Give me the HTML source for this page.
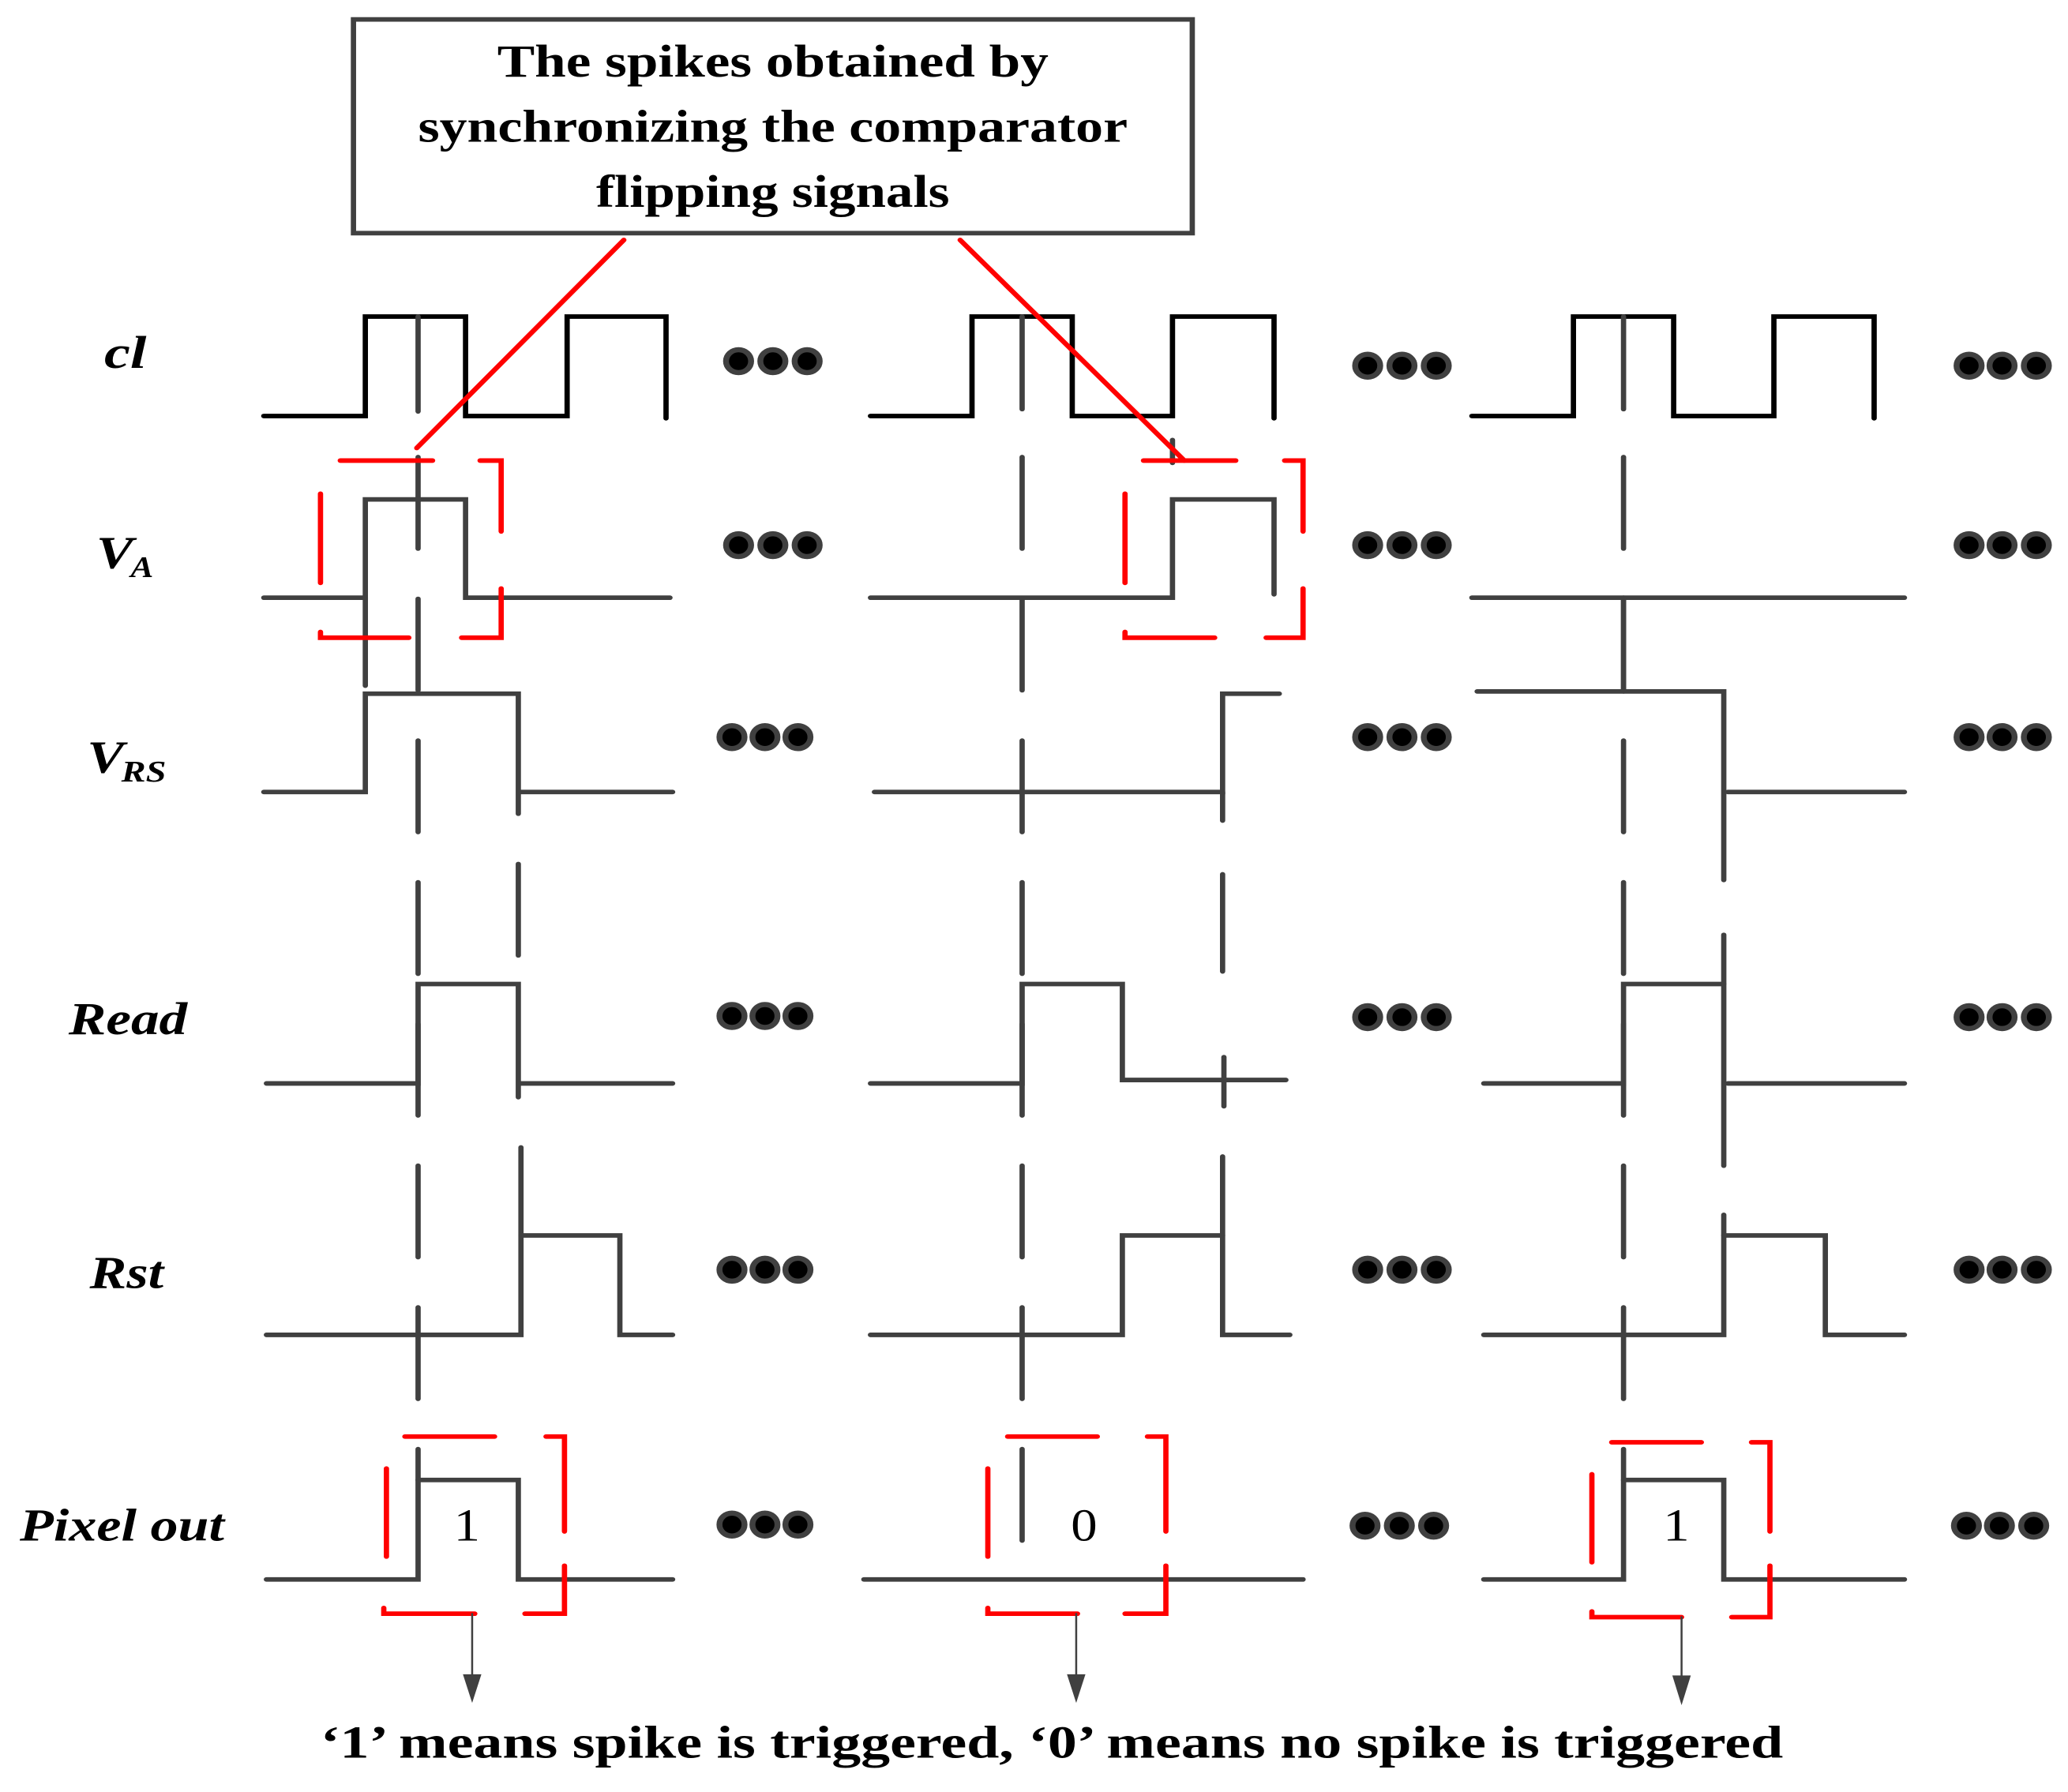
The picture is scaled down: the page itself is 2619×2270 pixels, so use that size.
<!DOCTYPE html>
<html><head><meta charset="utf-8"><style>
html,body{margin:0;padding:0;background:#fff;}
svg{display:block;}
text{font-family:"Liberation Serif",serif;fill:#000;}
</style></head><body>
<svg width="2619" height="2270" viewBox="0 0 1568 1568" preserveAspectRatio="none" xmlns="http://www.w3.org/2000/svg">
<g fill="none" stroke-linecap="round" stroke-linejoin="miter">
<rect x="268" y="17" width="636" height="187" stroke="#404040" stroke-width="4"/>
<g stroke="#000" stroke-width="4">
<polyline points="200,364 277,364 277,277 353,277 353,364 430,364 430,277 505,277 505,366"/>
<polyline points="660,364 737,364 737,277 813,277 813,364 889,364 889,277 966,277 966,366"/>
<polyline points="1116,364 1193,364 1193,277 1269,277 1269,364 1345,364 1345,277 1421,277 1421,366"/>
</g>
<g stroke="#404040" stroke-width="4">
<line x1="317" y1="277" x2="317" y2="360"/>
<line x1="775" y1="277" x2="775" y2="358"/>
<line x1="1231" y1="277" x2="1231" y2="358"/>
<line x1="889" y1="385" x2="889" y2="405"/>
<line x1="317" y1="400" x2="317" y2="1225" stroke-dasharray="80 44"/>
<line x1="775" y1="400" x2="775" y2="1350" stroke-dasharray="80 44"/>
<line x1="1231" y1="400" x2="1231" y2="1225" stroke-dasharray="80 44"/>
<line x1="1231" y1="523" x2="1231" y2="605"/>
<polyline points="200,523 277,523 277,437 353,437 353,523 508,523"/>
<line x1="277" y1="523" x2="277" y2="600"/>
<polyline points="660,523 889,523 889,437 966,437 966,520"/>
<line x1="1116" y1="523" x2="1444" y2="523"/>
<polyline points="200,693 277,693 277,607 393,607 393,712"/>
<line x1="395" y1="693" x2="510" y2="693"/>
<line x1="393" y1="756" x2="393" y2="836"/>
<polyline points="663,693 927,693 927,607 970,607"/>
<line x1="927" y1="693" x2="927" y2="718"/>
<line x1="927" y1="765" x2="927" y2="850"/>
<polyline points="1120,605 1307,605 1307,770"/>
<line x1="1310" y1="693" x2="1444" y2="693"/>
<polyline points="202,948 317,948 317,861 393,861 393,960"/>
<line x1="395" y1="948" x2="510" y2="948"/>
<polyline points="660,948 775,948 775,861 851,861 851,945 975,945"/>
<line x1="928" y1="925" x2="928" y2="968"/>
<polyline points="1125,948 1231,948 1231,861 1307,861"/>
<line x1="1307" y1="818" x2="1307" y2="1020"/>
<line x1="1310" y1="948" x2="1444" y2="948"/>
<polyline points="202,1168 395,1168 395,1004"/>
<polyline points="395,1081 470,1081 470,1168 510,1168"/>
<polyline points="660,1168 851,1168 851,1081 927,1081"/>
<polyline points="927,1012 927,1168 978,1168"/>
<polyline points="1125,1168 1307,1168 1307,1063"/>
<polyline points="1307,1081 1384,1081 1384,1168 1444,1168"/>
<polyline points="202,1382 317,1382 317,1268"/>
<polyline points="317,1295 393,1295 393,1382 510,1382"/>
<line x1="655" y1="1382" x2="988" y2="1382"/>
<polyline points="1125,1382 1231,1382 1231,1268"/>
<polyline points="1231,1295 1307,1295 1307,1382 1444,1382"/>
</g>
<g stroke="#f00" stroke-width="4">
<line x1="473" y1="210" x2="316" y2="392"/>
<line x1="728" y1="210" x2="898" y2="403"/>
<line x1="258" y1="403" x2="328" y2="403"/>
<polyline points="364,403 380,403 380,465"/>
<line x1="243" y1="432" x2="243" y2="510"/>
<polyline points="243,553 243,558 310,558"/>
<polyline points="350,558 380,558 380,515"/>
<line x1="867" y1="403" x2="937" y2="403"/>
<polyline points="974,403 988,403 988,465"/>
<line x1="853" y1="432" x2="853" y2="510"/>
<polyline points="853,553 853,558 921,558"/>
<polyline points="960,558 988,558 988,515"/>
<line x1="307" y1="1257" x2="375" y2="1257"/>
<polyline points="414,1257 428,1257 428,1340"/>
<line x1="293" y1="1285" x2="293" y2="1362"/>
<polyline points="291,1407 291,1412 360,1412"/>
<polyline points="398,1412 428,1412 428,1370"/>
<line x1="764" y1="1257" x2="832" y2="1257"/>
<polyline points="870,1257 884,1257 884,1340"/>
<line x1="749" y1="1285" x2="749" y2="1362"/>
<polyline points="749,1407 749,1412 817,1412"/>
<polyline points="853,1412 884,1412 884,1370"/>
<line x1="1222" y1="1262" x2="1290" y2="1262"/>
<polyline points="1328,1262 1342,1262 1342,1340"/>
<line x1="1207" y1="1290" x2="1207" y2="1367"/>
<polyline points="1207,1410 1207,1415 1275,1415"/>
<polyline points="1313,1415 1342,1415 1342,1370"/>
</g>
<g stroke="#404040" stroke-width="1.5">
<line x1="358" y1="1412" x2="358" y2="1470"/>
<line x1="816" y1="1412" x2="816" y2="1470"/>
<line x1="1275" y1="1415" x2="1275" y2="1470"/>
</g>
</g>
<g fill="#404040">
<polygon points="351,1465 365,1465 358,1490"/>
<polygon points="809,1465 823,1465 816,1490"/>
<polygon points="1268,1466 1282,1466 1275,1492"/>
</g>
<g fill="#000" stroke="#404040" stroke-width="4.5">
<ellipse cx="560" cy="316" rx="9.5" ry="10"/><ellipse cx="586" cy="316" rx="9.5" ry="10"/><ellipse cx="612" cy="316" rx="9.5" ry="10"/>
<ellipse cx="560" cy="477" rx="9.5" ry="10"/><ellipse cx="586" cy="477" rx="9.5" ry="10"/><ellipse cx="612" cy="477" rx="9.5" ry="10"/>
<ellipse cx="555" cy="645" rx="9.5" ry="10"/><ellipse cx="580" cy="645" rx="9.5" ry="10"/><ellipse cx="605" cy="645" rx="9.5" ry="10"/>
<ellipse cx="555" cy="889" rx="9.5" ry="10"/><ellipse cx="580" cy="889" rx="9.5" ry="10"/><ellipse cx="605" cy="889" rx="9.5" ry="10"/>
<ellipse cx="555" cy="1111" rx="9.5" ry="10"/><ellipse cx="580" cy="1111" rx="9.5" ry="10"/><ellipse cx="605" cy="1111" rx="9.5" ry="10"/>
<ellipse cx="555" cy="1334" rx="9.5" ry="10"/><ellipse cx="580" cy="1334" rx="9.5" ry="10"/><ellipse cx="605" cy="1334" rx="9.5" ry="10"/>
<ellipse cx="1037" cy="320" rx="9.5" ry="10"/><ellipse cx="1063" cy="320" rx="9.5" ry="10"/><ellipse cx="1089" cy="320" rx="9.5" ry="10"/>
<ellipse cx="1037" cy="477" rx="9.5" ry="10"/><ellipse cx="1063" cy="477" rx="9.5" ry="10"/><ellipse cx="1089" cy="477" rx="9.5" ry="10"/>
<ellipse cx="1037" cy="645" rx="9.5" ry="10"/><ellipse cx="1063" cy="645" rx="9.5" ry="10"/><ellipse cx="1089" cy="645" rx="9.5" ry="10"/>
<ellipse cx="1037" cy="890" rx="9.5" ry="10"/><ellipse cx="1063" cy="890" rx="9.5" ry="10"/><ellipse cx="1089" cy="890" rx="9.5" ry="10"/>
<ellipse cx="1037" cy="1111" rx="9.5" ry="10"/><ellipse cx="1063" cy="1111" rx="9.5" ry="10"/><ellipse cx="1089" cy="1111" rx="9.5" ry="10"/>
<ellipse cx="1035" cy="1335" rx="9.5" ry="10"/><ellipse cx="1061" cy="1335" rx="9.5" ry="10"/><ellipse cx="1087" cy="1335" rx="9.5" ry="10"/>
<ellipse cx="1493" cy="320" rx="9.5" ry="10"/><ellipse cx="1518" cy="320" rx="9.5" ry="10"/><ellipse cx="1544" cy="320" rx="9.5" ry="10"/>
<ellipse cx="1493" cy="477" rx="9.5" ry="10"/><ellipse cx="1518" cy="477" rx="9.5" ry="10"/><ellipse cx="1544" cy="477" rx="9.5" ry="10"/>
<ellipse cx="1493" cy="645" rx="9.5" ry="10"/><ellipse cx="1518" cy="645" rx="9.5" ry="10"/><ellipse cx="1544" cy="645" rx="9.5" ry="10"/>
<ellipse cx="1493" cy="890" rx="9.5" ry="10"/><ellipse cx="1518" cy="890" rx="9.5" ry="10"/><ellipse cx="1544" cy="890" rx="9.5" ry="10"/>
<ellipse cx="1493" cy="1111" rx="9.5" ry="10"/><ellipse cx="1518" cy="1111" rx="9.5" ry="10"/><ellipse cx="1544" cy="1111" rx="9.5" ry="10"/>
<ellipse cx="1491" cy="1335" rx="9.5" ry="10"/><ellipse cx="1516" cy="1335" rx="9.5" ry="10"/><ellipse cx="1542" cy="1335" rx="9.5" ry="10"/>
</g>
<g font-weight="bold" font-size="40" text-anchor="start">
<text x="377" y="67" textLength="418" lengthAdjust="spacingAndGlyphs">The  spikes obtained by</text>
<text x="317" y="124" textLength="538" lengthAdjust="spacingAndGlyphs">synchronizing the comparator</text>
<text x="452" y="181" textLength="268" lengthAdjust="spacingAndGlyphs">flipping signals</text>
</g>
<g font-weight="bold" font-style="italic" font-size="40">
<text x="79" y="322" textLength="32" lengthAdjust="spacingAndGlyphs">cl</text>
<text x="73" y="497" textLength="28" lengthAdjust="spacingAndGlyphs">V</text>
<text x="99" y="505" font-size="26">A</text>
<text x="66" y="676" textLength="28" lengthAdjust="spacingAndGlyphs">V</text>
<text x="92" y="684" font-size="26" textLength="34" lengthAdjust="spacingAndGlyphs">RS</text>
<text x="52" y="905" textLength="90" lengthAdjust="spacingAndGlyphs">Read</text>
<text x="68" y="1127" textLength="56" lengthAdjust="spacingAndGlyphs">Rst</text>
<text x="15" y="1348" textLength="155" lengthAdjust="spacingAndGlyphs">Pixel out</text>
</g>
<g font-size="40">
<text x="344" y="1348">1</text>
<text x="812" y="1348">0</text>
<text x="1261" y="1348">1</text>
</g>
<text x="243" y="1538" font-weight="bold" font-size="40" textLength="1109" lengthAdjust="spacingAndGlyphs">‘1’ means spike is triggered, ‘0’ means no spike is triggered</text>
</svg>
</body></html>
